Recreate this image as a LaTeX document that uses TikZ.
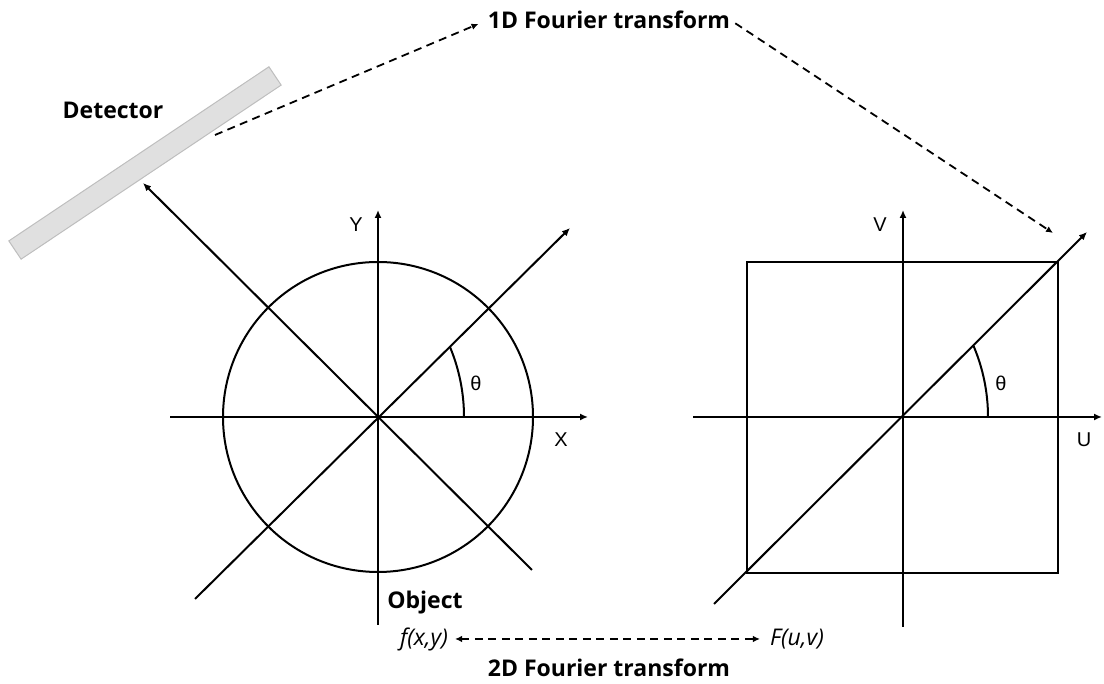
\documentclass[tikz,border=0pt]{standalone}
\usepackage{fontspec}
\setmainfont{Open Sans}
\newfontfamily\axfont{Liberation Sans}
\usetikzlibrary{arrows.meta}
\definecolor{detfill}{RGB}{224,224,224}
\definecolor{detdraw}{RGB}{190,190,190}
\begin{document}
\begin{tikzpicture}[x=1pt,y=1pt,
  ln/.style={line width=2pt, black},
  arr/.style={ln, -{Latex[length=8pt,width=7pt]}},
  dsh/.style={line width=1.8pt, dash pattern=on 8pt off 5.5pt},
  tip/.style={-{Latex[length=7pt,width=6.5pt]}},
  boldlbl/.style={font=\fontsize{23}{27}\selectfont\bfseries, inner sep=0pt},
  itlbl/.style={font=\fontsize{23}{27}\selectfont\itshape, inner sep=0pt},
  axlbl/.style={font=\axfont\fontsize{20}{24}\selectfont, inner sep=0pt}]
\useasboundingbox (0,0) rectangle (1104,684);

% ---------- left diagram (object) ----------
\coordinate (O1) at (378,267);
\draw[ln] (O1) circle (155);
\coordinate (x1a) at (170,267); \coordinate (x1b) at (588,267);
\coordinate (y1a) at (378,59);  \coordinate (y1b) at (378,474);
\coordinate (d1a) at (195,85);  \coordinate (d1b) at (570,456);
\coordinate (e1a) at (532,114); \coordinate (e1b) at (143,501);
\draw[arr] (x1a) -- (x1b);
\draw[arr] (y1a) -- (y1b);
\draw[arr] (d1a) -- (d1b);
\draw[arr] (e1a) -- (e1b);
\draw[ln] (464,267) arc[start angle=0, end angle=22.6, radius=182];
\node[axlbl] (th1) at (476,301) {θ};
\node[axlbl] (lx) at (561,244) {X};
\node[axlbl] (ly) at (356,459) {Y};

% ---------- right diagram (frequency) ----------
\coordinate (O2) at (903,267);
\draw[ln] (747,111) rectangle (1058,422);
\coordinate (x2a) at (693,267); \coordinate (x2b) at (1102,267);
\coordinate (y2a) at (903,57);  \coordinate (y2b) at (903,474);
\coordinate (d2a) at (714,80);  \coordinate (d2b) at (1087,452);
\draw[arr] (x2a) -- (x2b);
\draw[arr] (y2a) -- (y2b);
\draw[arr] (d2a) -- (d2b);
\draw[ln] (988,267) arc[start angle=0, end angle=22.9, radius=182];
\node[axlbl] (th2) at (1001,301) {θ};
\node[axlbl] (lu) at (1084,244) {U};
\node[axlbl] (lv) at (880,459) {V};

% ---------- detector ----------
\node[draw=detdraw, line width=1pt, fill=detfill, minimum width=313pt,
      minimum height=22pt, inner sep=0pt, rotate=33.8] (det) at (145,521) {};
\node[boldlbl] (detl) at (113,574) {Detector};

% ---------- 1D Fourier transform ----------
\node[boldlbl] (t1) at (609,664) {1D Fourier transform};
\coordinate (ds) at (215,549);
\coordinate (de) at (1053,451);
\draw[dsh, tip, shorten >=10pt] (ds) -- (t1.west);
\draw[dsh, tip, shorten <=6pt] (t1.east) -- (de);

% ---------- bottom labels ----------
\node[boldlbl] (obj) at (425,81) {Object};
\node[itlbl] (f) at (424,45) {f(x,y)};
\node[itlbl] (F) at (797,45) {F(u,v)};
\draw[dsh, {Latex[length=7pt,width=6.5pt]}-{Latex[length=7pt,width=6.5pt]},
      shorten <=7pt, shorten >=10pt] (f.east) -- (F.west);
\node[boldlbl] (t2) at (609,16) {2D Fourier transform};
\end{tikzpicture}
\end{document}
